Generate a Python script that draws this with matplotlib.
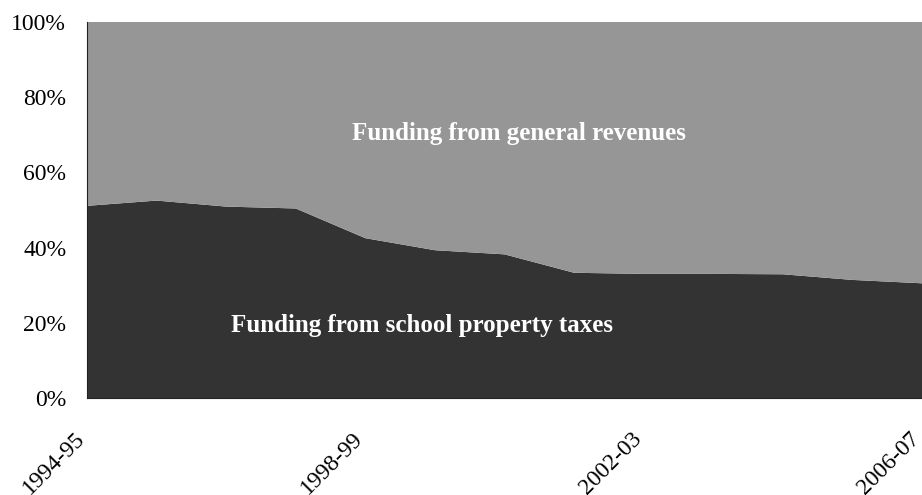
import numpy as np
import matplotlib
matplotlib.use("Agg")
from matplotlib import pyplot as plt
from matplotlib.ticker import FuncFormatter
from matplotlib.transforms import ScaledTranslation

# school years 1994-95 .. 2006-07
years = ['1994-95', '1995-96', '1996-97', '1997-98', '1998-99', '1999-00', '2000-01',
         '2001-02', '2002-03', '2003-04', '2004-05', '2005-06', '2006-07']
# share of school funding from property taxes (%)
property_tax = [51.1, 52.5, 50.9, 50.4, 42.5, 39.3, 38.2, 33.3, 33.0, 33.0, 32.9, 31.4, 30.5]
# remainder comes from general revenues
general_rev = [100 - v for v in property_tax]
labelled = [0, 4, 8, 12]

plt.rcParams['font.family'] = ['Liberation Serif', 'DejaVu Serif']

x = np.arange(len(years))
fig = plt.figure(figsize=(9.22, 4.95), dpi=100)
ax = fig.add_axes([0.0944, 0.196, 0.9056, 0.7596])

ax.stackplot(x, property_tax, general_rev, colors=['#333333', '#969696'], linewidth=0)

ax.set_xlim(0, len(years) - 1)
ax.set_ylim(0, 100)
ax.set_yticks(np.arange(0, 101, 20))
ax.yaxis.set_major_formatter(FuncFormatter(lambda v, p: '%d%%' % v))
ax.set_xticks(labelled)
ax.set_xticklabels([years[i] for i in labelled], rotation=45, ha='right',
                   va='center', rotation_mode='anchor')
ax.tick_params(axis='both', length=0, labelsize=17)
ax.tick_params(axis='y', pad=15)
ax.tick_params(axis='x', pad=27)

# nudge the slanted year labels a little to the left
shift = ScaledTranslation(-4 / 72, 0, fig.dpi_scale_trans)
for lbl in ax.get_xticklabels():
    lbl.set_transform(lbl.get_transform() + shift)

for s in ['top', 'right']:
    ax.spines[s].set_visible(False)
ax.spines['left'].set_color('#222222')
ax.spines['bottom'].set_color('#222222')
ax.spines['left'].set_linewidth(0.8)
ax.spines['bottom'].set_linewidth(0.8)

ax.text(6.21, 68.6, 'Funding from general revenues', color='white', fontsize=18,
        fontweight='bold', ha='center', va='baseline')
ax.text(4.81, 17.6, 'Funding from school property taxes', color='white', fontsize=18,
        fontweight='bold', ha='center', va='baseline')

fig.savefig('out.png', dpi=100)
